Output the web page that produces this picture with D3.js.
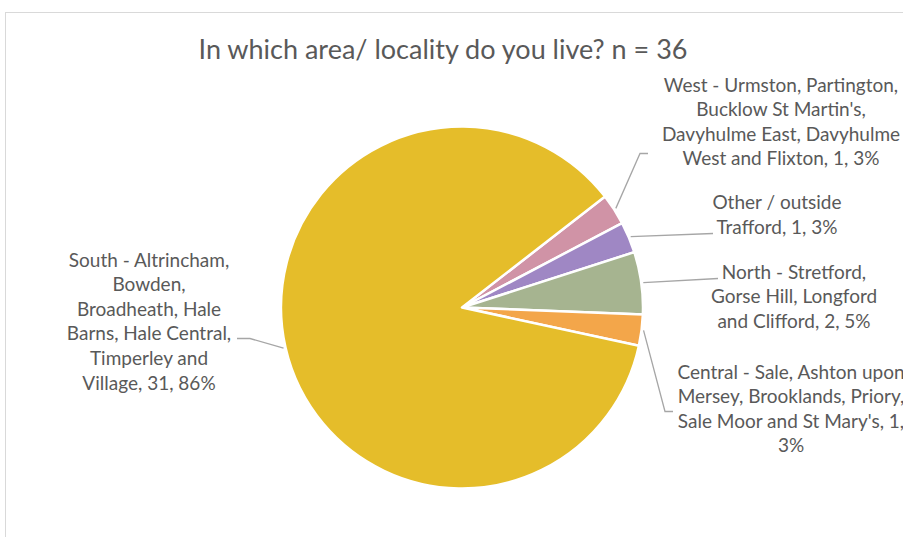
<!DOCTYPE html>
<html>
<head>
<meta charset="utf-8">
<script src="https://cdn.jsdelivr.net/npm/d3@7"></script>
<style>
  html, body { margin: 0; padding: 0; background: #fff; }
  svg { display: block; }
  text { font-family: "Lato", "Open Sans", sans-serif; fill: #595959; }
</style>
</head>
<body>
<svg id="chart" width="903" height="537"></svg>
<script>
// Survey responses by area (n = 36), in drawing order clockwise
const categories = [
  "West - Urmston, Partington, Bucklow St Martin's, Davyhulme East, Davyhulme West and Flixton",
  "Other / outside Trafford",
  "North - Stretford, Gorse Hill, Longford and Clifford",
  "Central - Sale, Ashton upon Mersey, Brooklands, Priory, Sale Moor and St Mary's",
  "South - Altrincham, Bowden, Broadheath, Hale Barns, Hale Central, Timperley and Village"
];
const counts = [1, 1, 2, 1, 31];
const percentLabels = ["3%", "3%", "5%", "3%", "86%"];
const colors = ["#d093a6", "#9f87c4", "#a6b490", "#f3a64a", "#e5bd2a"];

// Data label text, wrapped onto lines
const labelLines = [
  ["West - Urmston, Partington,", "Bucklow St Martin's,", "Davyhulme East, Davyhulme", "West and Flixton, 1, 3%"],
  ["Other / outside", "Trafford, 1, 3%"],
  ["North - Stretford,", "Gorse Hill, Longford", "and Clifford, 2, 5%"],
  ["Central - Sale, Ashton upon", "Mersey, Brooklands, Priory,", "Sale Moor and St Mary's, 1,", "3%"],
  ["South - Altrincham,", "Bowden,", "Broadheath, Hale", "Barns, Hale Central,", "Timperley and", "Village, 31, 86%"]
];

const title = "In which area/ locality do you live? n = 36";

// Layout
const cx = 462, cy = 307.5, radius = 181;
const firstSliceAngle = 52.2 * Math.PI / 180;
const lineHeight = 24.6;
// label block: centre x, first baseline y, leader elbow and end point
const labelLayout = [
  { x: 781, y: 91.5, path: [[640, 153.5], [648, 153.5]] },
  { x: 777, y: 209, path: [[713, 233.5]] },
  { x: 794, y: 278.5, path: [[718, 278.5]] },
  { x: 791, y: 378.5, path: [[665, 411.5], [673, 411.5]] },
  { x: 149, y: 266.5, path: [[250, 338.5], [237, 338.5]] }
];

const svg = d3.select("#chart");

// chart area border
svg.append("rect")
  .attr("x", 5.5).attr("y", 12.5)
  .attr("width", 940).attr("height", 560)
  .attr("fill", "#fff").attr("stroke", "#d9d9d9").attr("stroke-width", 1);

svg.append("text")
  .attr("x", 443).attr("y", 58.5)
  .attr("text-anchor", "middle")
  .style("font-size", "27px")
  .text(title);

const pie = d3.pie().sort(null)
  .startAngle(firstSliceAngle)
  .endAngle(firstSliceAngle + 2 * Math.PI)
  .value(d => d);
const arcs = pie(counts);
const arc = d3.arc().innerRadius(0).outerRadius(radius);

const g = svg.append("g").attr("transform", `translate(${cx},${cy})`);
g.selectAll("path.slice")
  .data(arcs)
  .join("path")
  .attr("class", "slice")
  .attr("d", arc)
  .attr("fill", (d, i) => colors[i])
  .attr("stroke", "#fff")
  .attr("stroke-width", 2.5)
  .attr("stroke-linejoin", "round");

// leader lines from the slice edge at its mid angle to the label
const leader = d3.line();
svg.selectAll("path.leader")
  .data(arcs)
  .join("path")
  .attr("class", "leader")
  .attr("d", (d, i) => {
    const a = (d.startAngle + d.endAngle) / 2;
    const r = radius + 2;
    const start = [cx + r * Math.sin(a), cy - r * Math.cos(a)];
    return leader([start, ...labelLayout[i].path]);
  })
  .attr("fill", "none")
  .attr("stroke", "#a6a6a6")
  .attr("stroke-width", 1.3);

// data labels
labelLines.forEach((lines, i) => {
  const L = labelLayout[i];
  const t = svg.append("text")
    .attr("text-anchor", "middle")
    .style("font-size", "19px");
  lines.forEach((line, k) => {
    t.append("tspan").attr("x", L.x).attr("y", L.y + k * lineHeight).text(line);
  });
});
</script>
</body>
</html>
